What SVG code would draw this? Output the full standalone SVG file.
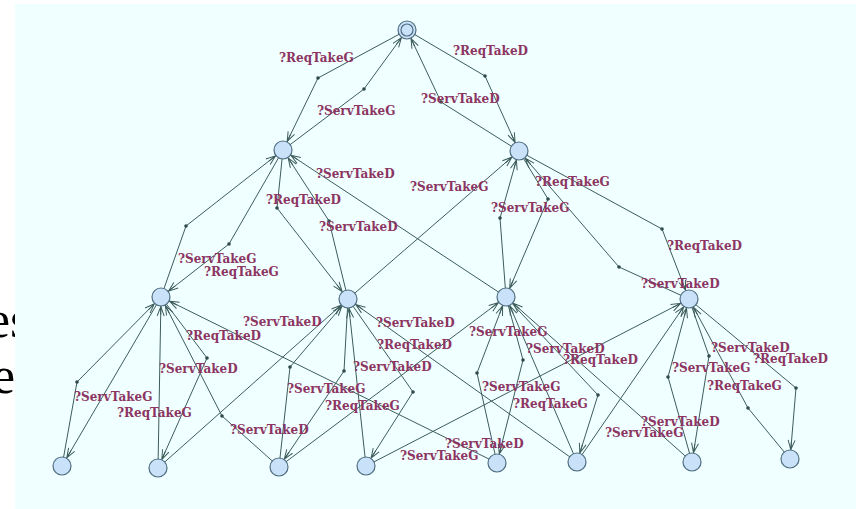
<svg xmlns="http://www.w3.org/2000/svg" width="856" height="509" viewBox="0 0 856 509">
  <defs>
    <style>
      .bg-text { font-family: "Liberation Serif", "Times New Roman", serif; font-size: 52px; fill: #000; }
      .edge { fill: none; stroke: #3E5C5C; stroke-width: 1; marker-end: url(#arrow); }
      .nail { fill: #2F4A4A; }
      .loc { fill: #C9E1F9; stroke: #4F6E80; stroke-width: 1.2; }
      .lbl { font-family: "DejaVu Serif", serif; font-weight: bold; font-size: 12px; fill: #8C3562; }
    </style>
    <!-- open arrowhead; tip pulled back by the location radius so it rests on the circle -->
    <marker id="arrow" markerUnits="userSpaceOnUse" markerWidth="12" markerHeight="8" refX="19" refY="3.5" orient="auto" overflow="visible">
      <path d="M0,0 L9.5,3.5 L0,7 M1,3.5 L9.5,3.5" fill="none" stroke="#3E5C5C" stroke-width="1"/>
    </marker>
  </defs>

  <!-- slide text partly hidden behind the panel -->
  <text class="bg-text" x="-13" y="337">es</text>
  <text class="bg-text" x="-8" y="393">e</text>

  <!-- panel -->
  <rect x="15" y="4" width="841" height="505" fill="#F0FFFF"/>

  <g id="connectors">
    <path class="edge" d="M407,30 L318,78 L283,150"/>
    <path class="edge" d="M283,150 L364,89 L407,30"/>
    <path class="edge" d="M407,30 L485,76 L519,151"/>
    <path class="edge" d="M519,151 L441,102 L407,30"/>

    <path class="edge" d="M283,150 L229,244 L161,297"/>
    <path class="edge" d="M161,297 L186,226 L283,150"/>
    <path class="edge" d="M283,150 L277,208 L348,299"/>
    <path class="edge" d="M348,299 L329,221 L283,150"/>
    <path class="edge" d="M506,297 L283,150"/>
    <path class="edge" d="M348,299 L519,151"/>
    <path class="edge" d="M519,151 L548,199 L506,297"/>
    <path class="edge" d="M506,297 L500,218 L519,151"/>
    <path class="edge" d="M519,151 L662,229 L689,299"/>
    <path class="edge" d="M689,299 L619,267 L519,151"/>

    <path class="edge" d="M161,297 L62,466"/>
    <path class="edge" d="M62,466 L77,382 L161,297"/>
    <path class="edge" d="M161,297 L207,358 L158,468"/>
    <path class="edge" d="M158,468 L161,297"/>
    <path class="edge" d="M279,467 L222,416 L161,297"/>
    <path class="edge" d="M158,468 L348,299"/>
    <path class="edge" d="M279,467 L290,367 L348,299"/>
    <path class="edge" d="M348,299 L344,371 L279,467"/>
    <path class="edge" d="M348,299 L413,392 L366,466"/>
    <path class="edge" d="M366,466 L348,299"/>
    <path class="edge" d="M497,463 L161,297"/>
    <path class="edge" d="M366,466 L689,299"/>
    <path class="edge" d="M577,462 L689,299"/>
    <path class="edge" d="M577,462 L348,299"/>
    <path class="edge" d="M497,463 L477,373 L506,297"/>
    <path class="edge" d="M506,297 L523,360 L497,463"/>
    <path class="edge" d="M506,297 L598,395 L577,462"/>
    <path class="edge" d="M577,462 L506,297"/>
    <path class="edge" d="M692,462 L506,297"/>
    <path class="edge" d="M692,462 L668,377 L689,299"/>
    <path class="edge" d="M689,299 L709,356 L692,462"/>
    <path class="edge" d="M790,459 L748,408 L689,299"/>
    <path class="edge" d="M689,299 L796,388 L790,459"/>
    <path class="edge" d="M279,467 L506,297"/>

    <!-- nails -->
    <g>
      <circle class="nail" cx="318" cy="78" r="1.8"/>
      <circle class="nail" cx="364" cy="89" r="1.8"/>
      <circle class="nail" cx="485" cy="76" r="1.8"/>
      <circle class="nail" cx="441" cy="102" r="1.8"/>
      <circle class="nail" cx="229" cy="244" r="1.8"/>
      <circle class="nail" cx="186" cy="226" r="1.8"/>
      <circle class="nail" cx="277" cy="208" r="1.8"/>
      <circle class="nail" cx="329" cy="221" r="1.8"/>
      <circle class="nail" cx="548" cy="199" r="1.8"/>
      <circle class="nail" cx="500" cy="218" r="1.8"/>
      <circle class="nail" cx="662" cy="229" r="1.8"/>
      <circle class="nail" cx="619" cy="267" r="1.8"/>
      <circle class="nail" cx="77" cy="382" r="1.8"/>
      <circle class="nail" cx="207" cy="358" r="1.8"/>
      <circle class="nail" cx="222" cy="416" r="1.8"/>
      <circle class="nail" cx="290" cy="367" r="1.8"/>
      <circle class="nail" cx="344" cy="371" r="1.8"/>
      <circle class="nail" cx="413" cy="392" r="1.8"/>
      <circle class="nail" cx="477" cy="373" r="1.8"/>
      <circle class="nail" cx="523" cy="360" r="1.8"/>
      <circle class="nail" cx="598" cy="395" r="1.8"/>
      <circle class="nail" cx="668" cy="377" r="1.8"/>
      <circle class="nail" cx="709" cy="356" r="1.8"/>
      <circle class="nail" cx="748" cy="408" r="1.8"/>
      <circle class="nail" cx="796" cy="388" r="1.8"/>
    </g>

    <!-- synchronisation labels -->
    <g>
      <text class="lbl" x="279" y="62">?ReqTakeG</text>
      <text class="lbl" x="317" y="115">?ServTakeG</text>
      <text class="lbl" x="453" y="55">?ReqTakeD</text>
      <text class="lbl" x="421" y="103">?ServTakeD</text>

      <text class="lbl" x="316" y="178">?ServTakeD</text>
      <text class="lbl" x="410" y="191">?ServTakeG</text>
      <text class="lbl" x="535" y="186">?ReqTakeG</text>
      <text class="lbl" x="266" y="204">?ReqTakeD</text>
      <text class="lbl" x="491" y="212">?ServTakeG</text>
      <text class="lbl" x="319" y="231">?ServTakeD</text>
      <text class="lbl" x="667" y="250">?ReqTakeD</text>
      <text class="lbl" x="178" y="263">?ServTakeG</text>
      <text class="lbl" x="204" y="276">?ReqTakeG</text>
      <text class="lbl" x="641" y="288">?ServTakeD</text>

      <text class="lbl" x="243" y="326">?ServTakeD</text>
      <text class="lbl" x="376" y="327">?ServTakeD</text>
      <text class="lbl" x="469" y="336">?ServTakeG</text>
      <text class="lbl" x="186" y="340">?ReqTakeD</text>
      <text class="lbl" x="377" y="349">?ReqTakeD</text>
      <text class="lbl" x="526" y="353">?ServTakeD</text>
      <text class="lbl" x="563" y="364">?ReqTakeD</text>
      <text class="lbl" x="711" y="352">?ServTakeD</text>
      <text class="lbl" x="753" y="363">?ReqTakeD</text>
      <text class="lbl" x="159" y="373">?ServTakeD</text>
      <text class="lbl" x="353" y="371">?ServTakeD</text>
      <text class="lbl" x="672" y="372">?ServTakeG</text>
      <text class="lbl" x="482" y="391">?ServTakeG</text>
      <text class="lbl" x="707" y="390">?ReqTakeG</text>
      <text class="lbl" x="74" y="401">?ServTakeG</text>
      <text class="lbl" x="287" y="393">?ServTakeG</text>
      <text class="lbl" x="513" y="408">?ReqTakeG</text>
      <text class="lbl" x="325" y="410">?ReqTakeG</text>
      <text class="lbl" x="117" y="417">?ReqTakeG</text>
      <text class="lbl" x="641" y="426">?ServTakeD</text>
      <text class="lbl" x="230" y="434">?ServTakeD</text>
      <text class="lbl" x="605" y="437">?ServTakeG</text>
      <text class="lbl" x="445" y="448">?ServTakeD</text>
      <text class="lbl" x="400" y="460">?ServTakeG</text>
    </g>
  </g>

  <!-- locations -->
  <g id="init">
    <circle class="loc" cx="407" cy="30" r="9"/>
    <circle class="loc" cx="407" cy="30" r="6"/>
  </g>
  <g id="A"><circle class="loc" cx="283" cy="150" r="9"/></g>
  <g id="B"><circle class="loc" cx="519" cy="151" r="9"/></g>
  <g id="C"><circle class="loc" cx="161" cy="297" r="9"/></g>
  <g id="D"><circle class="loc" cx="348" cy="299" r="9"/></g>
  <g id="E"><circle class="loc" cx="506" cy="297" r="9"/></g>
  <g id="F"><circle class="loc" cx="689" cy="299" r="9"/></g>
  <g id="G1"><circle class="loc" cx="62" cy="466" r="9"/></g>
  <g id="G2"><circle class="loc" cx="158" cy="468" r="9"/></g>
  <g id="G3"><circle class="loc" cx="279" cy="467" r="9"/></g>
  <g id="G4"><circle class="loc" cx="366" cy="466" r="9"/></g>
  <g id="G5"><circle class="loc" cx="497" cy="463" r="9"/></g>
  <g id="G6"><circle class="loc" cx="577" cy="462" r="9"/></g>
  <g id="G7"><circle class="loc" cx="692" cy="462" r="9"/></g>
  <g id="G8"><circle class="loc" cx="790" cy="459" r="9"/></g>
</svg>
